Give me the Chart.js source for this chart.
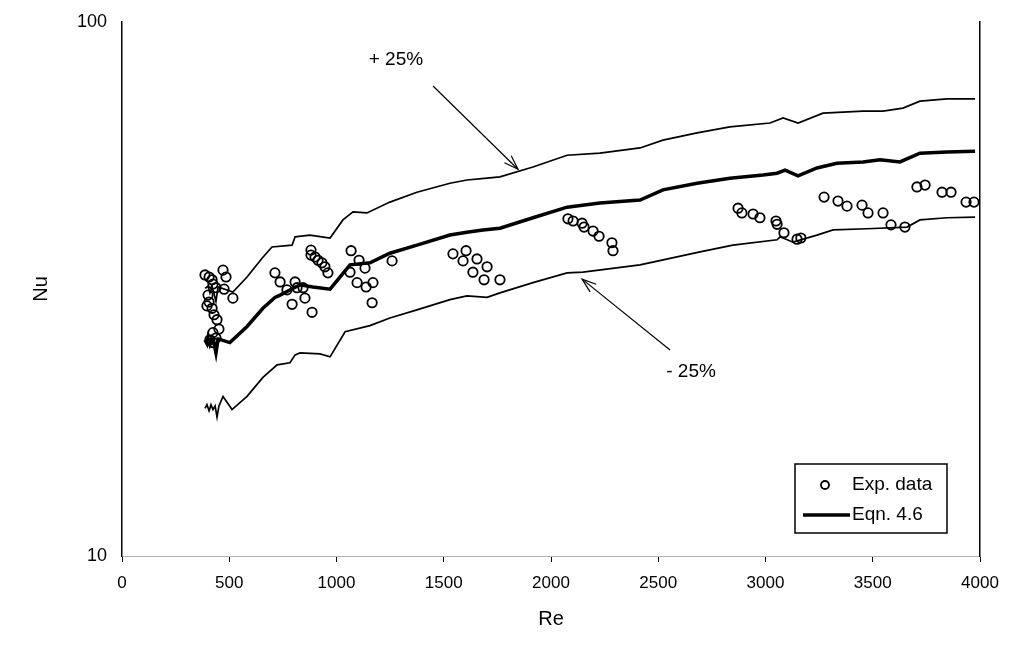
<!DOCTYPE html>
<html>
<head>
<meta charset="utf-8">
<title>Nu vs Re</title>
<script src="https://cdn.jsdelivr.net/npm/chart.js@4.4.1/dist/chart.umd.min.js"></script>
<style>
    html, body { margin: 0; padding: 0; background: #fff; }
    #wrap { width: 1019px; height: 667px; position: relative; }
</style>
</head>
<body>
<div id="wrap"><canvas id="nuChart"></canvas></div>
<script>
const expRe = [
    387, 406, 420, 424, 471, 485, 438, 476, 517, 401, 406, 396, 420, 429, 443, 452, 424, 410, 424, 438,
    713, 737, 769, 807, 816, 844, 853, 793, 886,
    881, 881, 900, 914, 932, 946, 960,
    1068, 1105, 1133, 1063, 1096, 1170, 1138, 1166, 1259,
    1543, 1604, 1590, 1655, 1702, 1636, 1688, 1762,
    2079, 2103, 2145, 2154, 2196, 2224, 2284, 2289,
    2872, 2890, 2942, 2974, 3049, 3054, 3086, 3147, 3165,
    3273, 3338, 3380, 3450, 3478, 3548, 3585, 3650,
    3706, 3744, 3823, 3865, 3935, 3972,
];
const expNu = [
    33.6, 33.3, 32.9, 32.3, 34.3, 33.3, 31.8, 31.6, 30.4, 30.8, 29.9, 29.4, 29.1, 28.3, 27.7, 26.6, 26.2, 25.4, 25.1, 25.6,
    33.9, 32.6, 31.5, 32.6, 31.8, 31.8, 30.4, 29.6, 28.6,
    37.4, 36.6, 36.3, 35.8, 35.4, 34.8, 33.9,
    37.3, 35.8, 34.6, 34.0, 32.5, 32.5, 31.9, 29.8, 35.7,
    36.8, 37.3, 35.7, 36.0, 34.8, 34.0, 32.9, 32.9,
    42.8, 42.4, 42.0, 41.3, 40.6, 39.7, 38.6, 37.3,
    44.8, 43.9, 43.7, 43.0, 42.4, 41.8, 40.3, 39.2, 39.4,
    47.0, 46.2, 45.2, 45.4, 43.9, 43.9, 41.7, 41.3,
    49.1, 49.5, 48.0, 48.0, 46.0, 46.0,
];

// Eqn. 4.6 curve
const eqnRe = [387, 396, 401, 410, 420, 429, 438, 448, 503, 583, 657, 713, 737, 830, 890, 970, 1063, 1156,
    1249, 1375, 1529, 1608, 1683, 1762, 1916, 2075, 2228, 2415, 2522, 2681, 2834, 2988, 3054, 3091,
    3152, 3240, 3333, 3455, 3534, 3627, 3720, 3846, 3977];
const eqnNu = [25.4, 25.0, 25.6, 24.9, 25.5, 25.0, 24.0, 25.5, 25.1, 26.9, 29.1, 30.5, 30.8, 32.2, 31.9, 31.6, 35.1, 35.4,
    36.9, 38.2, 39.9, 40.4, 40.8, 41.1, 43.0, 45.0, 45.8, 46.4, 48.5, 49.9, 51.0, 51.7, 52.1, 52.8,
    51.5, 53.3, 54.4, 54.7, 55.2, 54.7, 56.8, 57.1, 57.3];

// +25% band
const upRe = [387, 401, 410, 420, 438, 448, 517, 583, 653, 699, 793, 807, 876, 970, 1030, 1077, 1142, 1249, 1375,
    1529, 1608, 1702, 1762, 1916, 2075, 2228, 2415, 2522, 2681, 2834, 3021, 3082, 3152, 3268, 3455,
    3548, 3641, 3720, 3846, 3977];
const upNu = [31.7, 32.0, 31.1, 32.0, 30.0, 31.9, 31.2, 33.3, 36.1, 37.9, 38.2, 39.6, 39.9, 39.4, 42.6, 44.1, 43.9, 46.0, 48.0,
    49.9, 50.6, 51.0, 51.3, 53.5, 56.3, 56.8, 58.1, 60.1, 62.0, 63.6, 64.7, 66.1, 64.7, 67.5, 68.1,
    68.1, 69.0, 71.1, 71.8, 71.8];

// -25% band
const lowRe = [387, 396, 406, 415, 424, 434, 443, 452, 471, 513, 583, 657, 723, 783, 807, 830, 923, 970, 1040,
    1156, 1249, 1375, 1529, 1608, 1702, 1762, 1916, 2075, 2149, 2415, 2695, 2848, 3054, 3068, 3128,
    3240, 3315, 3473, 3660, 3720, 3846, 3977];
const lowNu = [18.9, 19.2, 18.7, 19.2, 18.8, 19.1, 18.2, 19.1, 19.9, 18.8, 19.9, 21.6, 22.8, 23.0, 23.8, 24.0, 23.9, 23.6, 26.3,
    27.0, 27.9, 28.9, 30.2, 30.7, 30.5, 31.1, 32.5, 33.9, 34.0, 35.1, 37.1, 38.2, 39.1, 39.6, 38.7,
    39.9, 40.8, 41.0, 41.3, 42.6, 43.0, 43.1];

const xTicks = [0, 500, 1000, 1500, 2000, 2500, 3000, 3500, 4000];
const yTicks = [10, 100];

const FONT = "'Liberation Sans', Arial, Helvetica, sans-serif";

function toPoints(xs, ys) {
    return xs.map((x, i) => ({ x: x, y: ys[i] }));
}

// arrows, "+/- 25%" labels and the boxed legend
const notesPlugin = {
    id: "notes",
    afterDatasetsDraw(chart) {
        const { ctx, chartArea, scales } = chart;
        const px = (re) => scales.x.getPixelForValue(re);
        const py = (nu) => scales.y.getPixelForValue(nu);

        ctx.save();
        ctx.strokeStyle = "#000";
        ctx.fillStyle = "#000";
        ctx.lineWidth = 1.2;

        function arrow(from, to) {
            const x1 = px(from[0]), y1 = py(from[1]);
            const x2 = px(to[0]), y2 = py(to[1]);
            ctx.beginPath();
            ctx.moveTo(x1, y1);
            ctx.lineTo(x2, y2);
            ctx.stroke();
            const a = Math.atan2(y2 - y1, x2 - x1);
            const len = 15, spread = 0.33;
            ctx.beginPath();
            ctx.moveTo(x2 - len * Math.cos(a - spread), y2 - len * Math.sin(a - spread));
            ctx.lineTo(x2, y2);
            ctx.lineTo(x2 - len * Math.cos(a + spread), y2 - len * Math.sin(a + spread));
            ctx.stroke();
        }

        arrow([1450, 75.9], [1846, 53.0]);
        arrow([2555, 24.3], [2145, 33.0]);

        ctx.font = "19px " + FONT;
        ctx.textAlign = "center";
        ctx.textBaseline = "middle";
        ctx.fillText("+ 25%", px(1277), py(84.9));
        ctx.fillText("- 25%", px(2653), py(22.1));

        // legend box
        const bx = chartArea.right - 185, by = chartArea.bottom - 92;
        const bw = 152, bh = 69;
        ctx.fillStyle = "#fff";
        ctx.fillRect(bx, by, bw, bh);
        ctx.lineWidth = 1.5;
        ctx.strokeRect(bx, by, bw, bh);

        const expSet = chart.data.datasets[0];
        const eqnSet = chart.data.datasets[1];
        ctx.beginPath();
        ctx.lineWidth = expSet.borderWidth;
        ctx.arc(bx + 30, by + 21, 4, 0, Math.PI * 2);
        ctx.stroke();

        ctx.beginPath();
        ctx.lineWidth = eqnSet.borderWidth;
        ctx.moveTo(bx + 8, by + 51);
        ctx.lineTo(bx + 55, by + 51);
        ctx.stroke();

        ctx.fillStyle = "#000";
        ctx.textAlign = "left";
        ctx.font = "19px " + FONT;
        ctx.fillText("Exp. data", bx + 57, by + 21);
        ctx.fillText("Eqn. 4.6", bx + 57, by + 51);
        ctx.restore();
    },
};

new Chart(document.getElementById("nuChart").getContext("2d"), {
    type: "scatter",
    data: {
        datasets: [
            {
                label: "Exp. data",
                data: toPoints(expRe, expNu),
                pointStyle: "circle",
                pointRadius: 4.7,
                borderWidth: 1.8,
                borderColor: "#000",
                backgroundColor: "rgba(0,0,0,0)",
                showLine: false,
            },
            {
                label: "Eqn. 4.6",
                data: toPoints(eqnRe, eqnNu),
                showLine: true,
                borderColor: "#000",
                borderWidth: 3.5,
                pointRadius: 0,
                tension: 0,
            },
            {
                label: "+25%",
                data: toPoints(upRe, upNu),
                showLine: true,
                borderColor: "#000",
                borderWidth: 1.7,
                pointRadius: 0,
                tension: 0,
            },
            {
                label: "-25%",
                data: toPoints(lowRe, lowNu),
                showLine: true,
                borderColor: "#000",
                borderWidth: 1.7,
                pointRadius: 0,
                tension: 0,
            },
        ],
    },
    options: {
        responsive: true,
        maintainAspectRatio: false,
        animation: false,
        layout: {
            padding: { left: 0, top: 22, right: 39, bottom: 0 },
        },
        plugins: {
            legend: { display: false },
            tooltip: { enabled: false },
        },
        scales: {
            x: {
                type: "linear",
                min: 0,
                max: 4000,
                afterBuildTicks: (s) => { s.ticks = xTicks.map((v) => ({ value: v })); },
                afterFit: (s) => { s.height = 111; },
                grid: {
                    display: true,
                    drawOnChartArea: false,
                    drawTicks: true,
                    tickLength: 6,
                    color: "#000",
                    lineWidth: 1,
                },
                border: { display: true, color: "rgba(0,0,0,0.3)", width: 1, dash: [1, 12] },
                ticks: {
                    color: "#000",
                    font: { family: FONT, size: 17 },
                    padding: 11,
                    maxRotation: 0,
                    callback: (v) => String(v),
                },
                title: {
                    display: true,
                    text: "Re",
                    color: "#000",
                    font: { family: FONT, size: 20 },
                    padding: { top: 0, bottom: 36 },
                },
            },
            y: {
                type: "logarithmic",
                min: 10,
                max: 100,
                afterBuildTicks: (s) => { s.ticks = yTicks.map((v) => ({ value: v })); },
                afterFit: (s) => { s.width = 122; },
                grid: { display: false },
                border: { display: true, color: "#000", width: 1.5 },
                ticks: {
                    color: "#000",
                    font: { family: FONT, size: 18 },
                    padding: 7,
                    callback: (v) => String(v),
                },
                title: {
                    display: true,
                    text: "Nu",
                    color: "#000",
                    font: { family: FONT, size: 20 },
                    padding: { top: 29, bottom: 0 },
                },
            },
            y2: {
                type: "linear",
                position: "right",
                display: true,
                afterFit: (s) => { s.width = 0; },
                grid: { display: false },
                border: { display: true, color: "#000", width: 1.5 },
                ticks: { display: false },
            },
        },
    },
    plugins: [notesPlugin],
});
</script>
</body>
</html>
